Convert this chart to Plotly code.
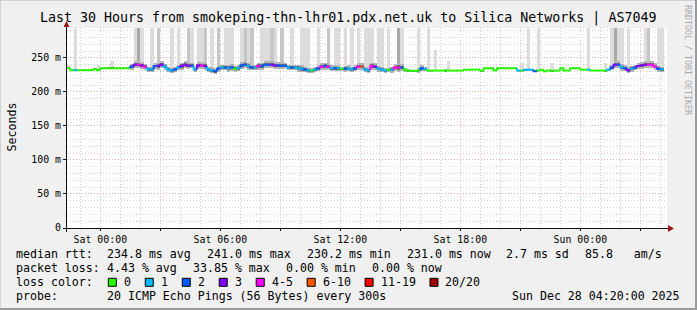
import plotly.graph_objects as go
import pandas as pd

# ---------------- data ----------------
START = "2025-12-26 22:20:00"
END = "2025-12-28 04:20:00"
STEP_MIN = 10

median_ms = [
    235, 232, 232, 232, 232, 232, 232, 232, 233.3, 232, 234.8, 234.8, 234.8, 234.8, 234.8, 234.8, 234.8, 234.8,
    234.8, 237, 240, 240, 239, 237, 233, 233, 238, 238, 240, 237, 233, 231.5, 233, 236, 238, 240,
    238.5, 238.5, 233, 239, 239, 238, 233, 232, 230.5, 234, 236, 236, 235, 236, 234, 235, 239, 240,
    238, 236, 236, 238, 238, 240, 240, 240, 239, 239, 238.5, 238.5, 236, 236, 236, 235, 234, 233,
    231.5, 231.5, 233, 235, 237, 238, 237, 235, 235, 235, 234, 234, 235, 233, 235, 237, 237, 233,
    232, 238, 237, 234, 233, 231.5, 232.5, 232.5, 236, 236, 236, 232.5, 231.5, 231, 231, 231.5, 235, 234,
    231.4, 231.4, 231.4, 231.4, 231.4, 231.4, 231.4, 231.4, 231.4, 231.4, 231.4, 232.8, 232.8, 232.8, 232.8, 232.8, 231, 234.8,
    234.8, 234.8, 231.4, 234.8, 234.8, 234.8, 234.8, 234.8, 234.8, 231.4, 231.4, 232.8, 232.8, 232.8, 230.4, 231.4, 232.8, 230.4,
    231.4, 231.4, 231.4, 231.4, 234.8, 231.4, 231.4, 234.8, 234.8, 234.8, 232.8, 232.8, 232.8, 231.4, 231.4, 231.4, 231.4, 231.4,
    232.8, 236, 240, 240, 236, 235, 232, 234, 236, 238, 239, 240, 240, 240, 237, 234, 233, None,
]
loss_count = [
    0, 0, 1, 0, 0, 0, 0, 0, 0, 0, 0, 0, 0, 0, 0, 0, 0, 0,
    0, 2, 3, 4, 3, 4, 1, 1, 2, 3, 3, 1, 1, 1, 2, 1, 3, 3,
    3, 2, 1, 3, 4, 3, 1, 1, 2, 2, 1, 2, 1, 2, 0, 1, 2, 2,
    1, 2, 1, 4, 2, 2, 2, 3, 3, 2, 2, 2, 1, 2, 1, 1, 1, 2,
    1, 0, 1, 2, 4, 2, 4, 1, 2, 1, 0, 2, 1, 1, 2, 4, 7, 1,
    1, 4, 3, 1, 1, 1, 0, 1, 4, 4, 2, 0, 0, 0, 0, 0, 2, 1,
    0, 0, 0, 0, 0, 0, 0, 0, 0, 0, 0, 0, 0, 0, 0, 0, 0, 0,
    0, 0, 0, 0, 0, 0, 0, 0, 0, 1, 0, 1, 1, 1, 2, 0, 0, 0,
    0, 0, 0, 0, 0, 0, 0, 0, 0, 0, 0, 0, 1, 0, 0, 0, 0, 0,
    1, 2, 3, 2, 1, 2, 3, 1, 2, 3, 3, 3, 4, 4, 4, 2, 1, 0,
]
jitter_ms = [
    1.5, 0.5, 0.5, 0.5, 0.5, 0.5, 0.5, 0.5, 1, 1.5, 0.5, 0.5, 1, 1.5, 0.5, 0.5, 0.5, 0.5,
    0.5, 4, 5, 5, 5, 4, 4, 4, 4, 5, 5, 4, 4, 4, 4, 4, 5, 5,
    5, 4, 4, 5, 5, 5, 4, 4, 4, 4, 4, 4, 5, 5, 4, 4, 5, 5,
    5, 4, 4, 5, 5, 5, 5, 5, 5, 5, 5, 4, 4, 4, 4, 5, 5, 4,
    4, 3, 4, 4, 5, 5, 5, 4, 4, 4, 3, 4, 4, 4, 4, 5, 5, 4,
    4, 5, 5, 4, 4, 3, 3, 4, 5, 6, 5, 3, 2, 2, 2, 3, 4, 3,
    1, 1, 0.5, 0.5, 0.5, 2, 0.5, 0.5, 0.5, 0.5, 0.5, 0.5, 0.5, 0.5, 0.5, 0.5, 0.5, 0.5,
    0.5, 0.5, 0.5, 0.5, 0.5, 0.5, 0.5, 0.5, 0.5, 1, 1, 1.5, 1, 1, 1.5, 1, 0.5, 0.5,
    0.5, 1.5, 0.5, 0.5, 0.5, 0.5, 0.5, 0.5, 0.5, 0.5, 0.5, 0.5, 1, 0.5, 0.5, 0.5, 0.5, 1.5,
    1, 4, 5, 5, 5, 4, 4, 4, 4, 4, 5, 5, 5, 5, 5, 4, 3, 0,
]
# samples whose slowest pings went far above the median
spike_idx = [0, 2, 9, 13, 20, 21, 22, 25, 27, 31, 33, 36, 37, 39, 40, 41, 43, 45, 47, 48, 49,
             52, 53, 54, 55, 58, 59, 60, 61, 62, 64, 67, 70, 71, 72, 75, 78, 80, 81, 83, 85,
             87, 89, 90, 91, 93, 94, 96, 99, 100, 105, 108, 110, 114, 136, 138, 141, 145,
             156, 161, 163, 164, 165, 166, 168, 173, 174, 177, 178]
spike_top_ms = [240, 400, 240, 245, 400, 400, 400, 400, 400, 400, 400, 400, 400, 400, 400, 400, 400, 400, 400, 400, 400,
                400, 400, 400, 400, 400, 400, 400, 400, 400, 400, 400, 400, 400, 400, 400, 400, 400, 400, 400, 400,
                400, 400, 400, 400, 400, 400, 400, 400, 400, 400, 400, 262, 245, 242, 400, 400, 242,
                400, 242, 400, 400, 400, 400, 400, 400, 400, 400, 400]
spike_level = [1, 1, 1, 1, 1, 3, 1, 1, 2, 1, 1, 2, 1, 1, 1, 2, 1, 2, 1, 1, 1,
               1, 2, 1, 2, 1, 1, 1, 2, 1, 2, 1, 1, 1, 1, 1, 2, 1, 1, 1, 1,
               1, 1, 1, 1, 1, 1, 1, 3, 1, 1, 1, 1, 1, 1, 1, 1, 1,
               1, 1, 1, 3, 1, 1, 1, 1, 2, 1, 1]

loss_labels = ["0", "1", "2", "3", "4-5", "6-10", "11-19", "20/20"]
loss_upper = [0, 1, 2, 3, 5, 10, 19, 20]
loss_colors = ["#26ff00", "#00b8ff", "#0059ff", "#7e00ff", "#ff00ff", "#ff5500", "#ff0000", "#a00000"]

ytick_vals = [0, 50, 100, 150, 200, 250]
ytick_text = ["0", "50 m", "100 m", "150 m", "200 m", "250 m"]
xtick_vals = ["2025-12-27 00:00", "2025-12-27 03:00", "2025-12-27 06:00", "2025-12-27 09:00",
              "2025-12-27 12:00", "2025-12-27 15:00", "2025-12-27 18:00", "2025-12-27 21:00",
              "2025-12-28 00:00", "2025-12-28 03:00"]
xtick_text = ["Sat 00:00", "", "Sat 06:00", "", "Sat 12:00", "", "Sat 18:00", "", "Sun 00:00", ""]

title_text = "Last 30 Hours from smokeping-thn-lhr01.pdx.net.uk to Silica Networks | AS7049"
rtt_items = ["234.8 ms avg", "241.0 ms max", "230.2 ms min", "231.0 ms now", "2.7 ms sd", "85.8\u00a0\u00a0\u00a0am/s"]
loss_items = ["4.43 % avg", "33.85 % max", "0.00 % min", "0.00 % now"]
probe_text = "20 ICMP Echo Pings (56 Bytes) every 300s"
date_text = "Sun Dec 28 04:20:00 2025"

# ---------------- layout geometry (pixels) ----------------
W, H = 697, 310
L, R, T, B = 67, 30, 28, 82
PW, PH = W - L - R, H - T - B
MONO = "DejaVu Sans Mono"
CW = 6.98  # char width of 11.6px mono


def px(x):
    return (x - L) / PW


def py(y):
    return (T + PH - y) / PH


t0 = pd.Timestamp(START)
step = pd.Timedelta(minutes=STEP_MIN)
times = [t0 + step * i for i in range(len(median_ms) + 1)]
centers = [t + step / 2 for t in times[:-1]]

fig = go.Figure()

# smoke: tall spikes
shade = {1: "#dcdcdc", 2: "#c6c6c6", 3: "#a8a8a8"}
for lvl in (1, 2, 3):
    xs, bs, hs = [], [], []
    for i, top, lv in zip(spike_idx, spike_top_ms, spike_level):
        if lv != lvl or median_ms[i] is None:
            continue
        base = median_ms[i] + jitter_ms[i]
        xs.append(centers[i]); bs.append(base); hs.append(top - base)
    fig.add_trace(go.Bar(x=xs, y=hs, base=bs, width=step.total_seconds() * 1000,
                         marker=dict(color=shade[lvl], line=dict(width=0)), showlegend=False))

# smoke: core band around the median
valid = [i for i, m in enumerate(median_ms) if m is not None]
fig.add_trace(go.Bar(x=[centers[i] for i in valid], y=[2 * jitter_ms[i] for i in valid],
                     base=[median_ms[i] - jitter_ms[i] for i in valid], width=step.total_seconds() * 1000,
                     marker=dict(color="#b4b4b4", line=dict(width=0)), showlegend=False))
fig.add_trace(go.Bar(x=[centers[i] for i in valid], y=[jitter_ms[i] for i in valid],
                     base=[median_ms[i] - jitter_ms[i] / 2 for i in valid], width=step.total_seconds() * 1000,
                     marker=dict(color="#707070", line=dict(width=0)), showlegend=False))


def bucket(n):
    for k, u in enumerate(loss_upper):
        if n <= u:
            return k
    return len(loss_upper) - 1


segs = {k: ([], []) for k in range(len(loss_colors))}
prev = None
for i, m in enumerate(median_ms):
    if m is None:
        prev = None
        continue
    xs, ys = segs[bucket(loss_count[i])]
    if prev is not None:
        xs += [times[i], times[i], times[i + 1], None]
        ys += [prev, m, m, None]
    else:
        xs += [times[i], times[i + 1], None]
        ys += [m, m, None]
    prev = m
for k, (xs, ys) in segs.items():
    if xs:
        fig.add_trace(go.Scatter(x=xs, y=ys, mode="lines", line=dict(color=loss_colors[k], width=2),
                                 showlegend=False, hoverinfo="skip"))

shapes = []
ann = []

# border shading
shapes += [
    dict(type="line", xref="paper", yref="paper", x0=px(0.5), x1=px(0.5), y0=py(0), y1=py(H), line=dict(color="#d0d0d0", width=1)),
    dict(type="line", xref="paper", yref="paper", x0=px(0), x1=px(W), y0=py(0.5), y1=py(0.5), line=dict(color="#d0d0d0", width=1)),
    dict(type="line", xref="paper", yref="paper", x0=px(W - 1), x1=px(W - 1), y0=py(0), y1=py(H), line=dict(color="#9a9a9a", width=2)),
    dict(type="line", xref="paper", yref="paper", x0=px(0), x1=px(W), y0=py(H - 1), y1=py(H - 1), line=dict(color="#9a9a9a", width=2)),
]
# axes and arrows
shapes += [
    dict(type="line", xref="paper", yref="paper", x0=px(63), x1=px(670), y0=py(228.5), y1=py(228.5), line=dict(color="#111", width=1)),
    dict(type="line", xref="paper", yref="paper", x0=px(66.5), x1=px(66.5), y0=py(232), y1=py(24), line=dict(color="#111", width=1)),
    dict(type="path", xref="paper", yref="paper",
         path=f"M {px(668)},{py(225)} L {px(674)},{py(228.5)} L {px(668)},{py(232)} Z",
         fillcolor="#9b1c1c", line=dict(width=0)),
    dict(type="path", xref="paper", yref="paper",
         path=f"M {px(63.5)},{py(27)} L {px(66.5)},{py(21)} L {px(69.5)},{py(27)} Z",
         fillcolor="#9b1c1c", line=dict(width=0)),
]


def text(x, y, s, size=11.6, anchor="left", color="black", angle=0):
    ann.append(dict(x=px(x), y=py(y), xref="paper", yref="paper", text=s, showarrow=False,
                    xanchor=anchor, yanchor="middle", textangle=angle, borderpad=0, borderwidth=0,
                    font=dict(family=MONO, size=size, color=color)))


text(347.5, 18.5, title_text, size=13.3, anchor="center")
text(11, 127.5, "Seconds", size=11.6, anchor="center", angle=-90)
text(688, 60, "RRDTOOL / TOBI OETIKER", size=8.3, anchor="center", color="#a8a8a8", angle=90)

ROW = [254.3, 268.3, 282.3, 296.3]
text(16, ROW[0], "median rtt:")
x = 107.3
for s in rtt_items:
    text(x, ROW[0], s)
    x += len(s) * CW + 16
text(16, ROW[1], "packet loss:")
x = 107.3
for s in loss_items:
    text(x, ROW[1], s)
    x += len(s) * CW + 16
text(16, ROW[2], "loss color:")
bx = 108.3
for lab, col in zip(loss_labels, loss_colors):
    shapes.append(dict(type="rect", xref="paper", yref="paper", x0=px(bx), x1=px(bx + 8),
                       y0=py(ROW[2] - 4), y1=py(ROW[2] + 4), fillcolor=col, line=dict(color="black", width=1)))
    tx = bx + 15.5
    text(tx, ROW[2], lab)
    bx = tx + len(lab) * CW + 14.5
text(16, ROW[3], "probe:")
text(107.3, ROW[3], probe_text)
text(680, ROW[3], date_text, anchor="right")

fig.update_layout(
    width=W, height=H, margin=dict(l=L, r=R, t=T, b=B, pad=0),
    paper_bgcolor="#f0f0f0", plot_bgcolor="#ffffff",
    barmode="overlay", bargap=0, showlegend=False,
    shapes=shapes, annotations=ann,
    xaxis=dict(type="date", range=[START, END], tickmode="array", tickvals=xtick_vals, ticktext=xtick_text,
               showgrid=True, gridcolor="#f6bcbc", griddash="1px,2px", gridwidth=1,
               minor=dict(dtick=3600000, tick0="2025-12-27 00:00", showgrid=True, gridcolor="#cfcfcf",
                          griddash="1px,2px", gridwidth=1),
               ticks="outside", ticklen=2, tickcolor="#111", showline=False, zeroline=False,
               tickfont=dict(family=MONO, size=9.9, color="black")),
    yaxis=dict(range=[0, 294], tickmode="array", tickvals=ytick_vals, ticktext=ytick_text,
               showgrid=True, gridcolor="#f2a8a8", griddash="1px,2px", gridwidth=1,
               minor=dict(dtick=10, tick0=0, showgrid=True, gridcolor="#d4d4d4", griddash="1px,2px", gridwidth=1),
               ticks="outside", ticklen=3, tickcolor="#111", showline=False, zeroline=False,
               tickfont=dict(family=MONO, size=9.9, color="black")),
)

fig.write_html("out.html")
